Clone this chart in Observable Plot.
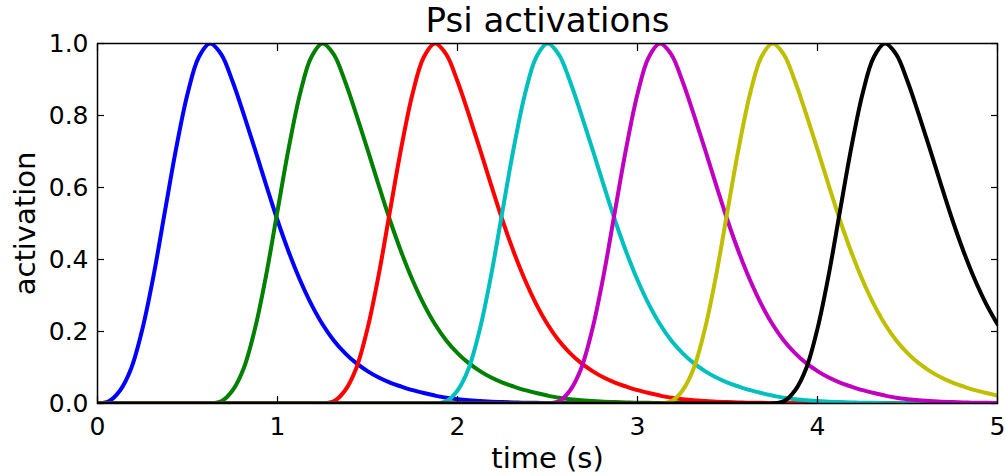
<!DOCTYPE html>
<html>
<head>
<meta charset="utf-8">
<script src="https://cdn.jsdelivr.net/npm/d3@7"></script>
<script src="https://cdn.jsdelivr.net/npm/@observablehq/plot@0.6"></script>
<style>
  html, body { margin: 0; padding: 0; background: #ffffff; }
  #chart svg { display: block; }
</style>
</head>
<body>
<div id="chart"></div>
<script>
// Sample times (s)
const times = [
  0, 0.0625, 0.125, 0.1875, 0.25, 0.3125, 0.375, 0.4375, 0.5, 0.5625,
  0.625, 0.6875, 0.75, 0.8125, 0.875, 0.9375, 1, 1.0625, 1.125, 1.1875,
  1.25, 1.3125, 1.375, 1.4375, 1.5, 1.5625, 1.625, 1.6875, 1.75, 1.8125,
  1.875, 1.9375, 2, 2.0625, 2.125, 2.1875, 2.25, 2.3125, 2.375, 2.4375,
  2.5, 2.5625, 2.625, 2.6875, 2.75, 2.8125, 2.875, 2.9375, 3, 3.0625,
  3.125, 3.1875, 3.25, 3.3125, 3.375, 3.4375, 3.5, 3.5625, 3.625, 3.6875,
  3.75, 3.8125, 3.875, 3.9375, 4, 4.0625, 4.125, 4.1875, 4.25, 4.3125,
  4.375, 4.4375, 4.5, 4.5625, 4.625, 4.6875, 4.75, 4.8125, 4.875, 4.9375,
  5
];

// Activation values, one array per curve
const psiBlue = [
  0, 0.006, 0.036, 0.098, 0.208, 0.358, 0.535, 0.71, 0.86, 0.962,
  1, 0.97, 0.895, 0.803, 0.706, 0.606, 0.509, 0.421, 0.343, 0.276,
  0.22, 0.175, 0.14, 0.112, 0.09, 0.072, 0.058, 0.047, 0.037, 0.029,
  0.022, 0.016, 0.012, 0.009, 0.007, 0.005, 0.004, 0.003, 0.002, 0.002,
  0.001, 0.001, 0.001, 0, 0, 0, 0, 0, 0, 0,
  0, 0, 0, 0, 0, 0, 0, 0, 0, 0,
  0, 0, 0, 0, 0, 0, 0, 0, 0, 0,
  0, 0, 0, 0, 0, 0, 0, 0, 0, 0,
  0
];
const psiGreen = [
  0, 0, 0, 0, 0, 0, 0, 0, 0, 0,
  0, 0.006, 0.036, 0.098, 0.208, 0.358, 0.535, 0.71, 0.86, 0.962,
  1, 0.97, 0.895, 0.803, 0.706, 0.606, 0.509, 0.421, 0.343, 0.276,
  0.22, 0.175, 0.14, 0.112, 0.09, 0.072, 0.058, 0.047, 0.037, 0.029,
  0.022, 0.016, 0.012, 0.009, 0.007, 0.005, 0.004, 0.003, 0.002, 0.002,
  0.001, 0.001, 0.001, 0, 0, 0, 0, 0, 0, 0,
  0, 0, 0, 0, 0, 0, 0, 0, 0, 0,
  0, 0, 0, 0, 0, 0, 0, 0, 0, 0,
  0
];
const psiRed = [
  0, 0, 0, 0, 0, 0, 0, 0, 0, 0,
  0, 0, 0, 0, 0, 0, 0, 0, 0, 0,
  0, 0.006, 0.036, 0.098, 0.208, 0.358, 0.535, 0.71, 0.86, 0.962,
  1, 0.97, 0.895, 0.803, 0.706, 0.606, 0.509, 0.421, 0.343, 0.276,
  0.22, 0.175, 0.14, 0.112, 0.09, 0.072, 0.058, 0.047, 0.037, 0.029,
  0.022, 0.016, 0.012, 0.009, 0.007, 0.005, 0.004, 0.003, 0.002, 0.002,
  0.001, 0.001, 0.001, 0, 0, 0, 0, 0, 0, 0,
  0, 0, 0, 0, 0, 0, 0, 0, 0, 0,
  0
];
const psiCyan = [
  0, 0, 0, 0, 0, 0, 0, 0, 0, 0,
  0, 0, 0, 0, 0, 0, 0, 0, 0, 0,
  0, 0, 0, 0, 0, 0, 0, 0, 0, 0,
  0, 0.006, 0.036, 0.098, 0.208, 0.358, 0.535, 0.71, 0.86, 0.962,
  1, 0.97, 0.895, 0.803, 0.706, 0.606, 0.509, 0.421, 0.343, 0.276,
  0.22, 0.175, 0.14, 0.112, 0.09, 0.072, 0.058, 0.047, 0.037, 0.029,
  0.022, 0.016, 0.012, 0.009, 0.007, 0.005, 0.004, 0.003, 0.002, 0.002,
  0.001, 0.001, 0.001, 0, 0, 0, 0, 0, 0, 0,
  0
];
const psiMagenta = [
  0, 0, 0, 0, 0, 0, 0, 0, 0, 0,
  0, 0, 0, 0, 0, 0, 0, 0, 0, 0,
  0, 0, 0, 0, 0, 0, 0, 0, 0, 0,
  0, 0, 0, 0, 0, 0, 0, 0, 0, 0,
  0, 0.006, 0.036, 0.098, 0.208, 0.358, 0.535, 0.71, 0.86, 0.962,
  1, 0.97, 0.895, 0.803, 0.706, 0.606, 0.509, 0.421, 0.343, 0.276,
  0.22, 0.175, 0.14, 0.112, 0.09, 0.072, 0.058, 0.047, 0.037, 0.029,
  0.022, 0.016, 0.012, 0.009, 0.007, 0.005, 0.004, 0.003, 0.002, 0.002,
  0.001
];
const psiYellow = [
  0, 0, 0, 0, 0, 0, 0, 0, 0, 0,
  0, 0, 0, 0, 0, 0, 0, 0, 0, 0,
  0, 0, 0, 0, 0, 0, 0, 0, 0, 0,
  0, 0, 0, 0, 0, 0, 0, 0, 0, 0,
  0, 0, 0, 0, 0, 0, 0, 0, 0, 0,
  0, 0.006, 0.036, 0.098, 0.208, 0.358, 0.535, 0.71, 0.86, 0.962,
  1, 0.97, 0.895, 0.803, 0.706, 0.606, 0.509, 0.421, 0.343, 0.276,
  0.22, 0.175, 0.14, 0.112, 0.09, 0.072, 0.058, 0.047, 0.037, 0.029,
  0.022
];
const psiBlack = [
  0, 0, 0, 0, 0, 0, 0, 0, 0, 0,
  0, 0, 0, 0, 0, 0, 0, 0, 0, 0,
  0, 0, 0, 0, 0, 0, 0, 0, 0, 0,
  0, 0, 0, 0, 0, 0, 0, 0, 0, 0,
  0, 0, 0, 0, 0, 0, 0, 0, 0, 0,
  0, 0, 0, 0, 0, 0, 0, 0, 0, 0,
  0, 0.006, 0.036, 0.098, 0.208, 0.358, 0.535, 0.71, 0.86, 0.962,
  1, 0.97, 0.895, 0.803, 0.706, 0.606, 0.509, 0.421, 0.343, 0.276,
  0.22
];

const seriesNames = ["psi 0", "psi 1", "psi 2", "psi 3", "psi 4", "psi 5", "psi 6"];
const seriesColors = ["#0000ff", "#008000", "#ff0000", "#00bfbf", "#bf00bf", "#bfbf00", "#000000"];
const seriesValues = [psiBlue, psiGreen, psiRed, psiCyan, psiMagenta, psiYellow, psiBlack];

const xTicks = [0, 1, 2, 3, 4, 5];
const yTicks = [0, 0.2, 0.4, 0.6, 0.8, 1.0];

const titleText = "Psi activations";
const xLabel = "time (s)";
const yLabel = "activation";

const rows = seriesNames.flatMap((name, k) =>
  seriesValues[k].map((v, i) => ({t: times[i], v, name}))
);

const chart = Plot.plot({
  width: 1006,
  height: 476,
  marginTop: 43,
  marginRight: 9,
  marginBottom: 73,
  marginLeft: 97,
  style: {fontFamily: "'DejaVu Sans', sans-serif", fontSize: "25px", color: "black", background: "white", overflow: "visible"},
  x: {domain: [0, 5]},
  y: {domain: [0, 1]},
  color: {domain: seriesNames, range: seriesColors},
  marks: [
    Plot.lineY(rows, {x: "t", y: "v", z: "name", stroke: "name", strokeWidth: 4, curve: "catmull-rom", clip: true}),
    Plot.frame({stroke: "black", strokeWidth: 1.5}),
    Plot.axisX({ticks: xTicks, tickSize: -7, tickPadding: 21, tickFormat: "d", label: null, strokeWidth: 1.2}),
    Plot.axisX({anchor: "top", ticks: xTicks, tickSize: -7, tickFormat: () => "", label: null, strokeWidth: 1.2}),
    Plot.axisY({ticks: yTicks, tickSize: -7, tickPadding: 16, tickFormat: ".1f", label: null, strokeWidth: 1.2}),
    Plot.axisY({anchor: "right", ticks: yTicks, tickSize: -7, tickFormat: () => "", label: null, strokeWidth: 1.2}),
    Plot.text([titleText], {text: d => d, frameAnchor: "top", dy: -22, fontSize: 34, lineAnchor: "middle", textAnchor: "middle"}),
    Plot.text([yLabel], {text: d => d, frameAnchor: "left", rotate: -90, dx: -72, fontSize: 29, lineAnchor: "middle", textAnchor: "middle"}),
    Plot.text([xLabel], {text: d => d, frameAnchor: "bottom", dy: 55, fontSize: 29, lineAnchor: "middle", textAnchor: "middle"})
  ]
});
document.getElementById("chart").appendChild(chart);
</script>
</body>
</html>
